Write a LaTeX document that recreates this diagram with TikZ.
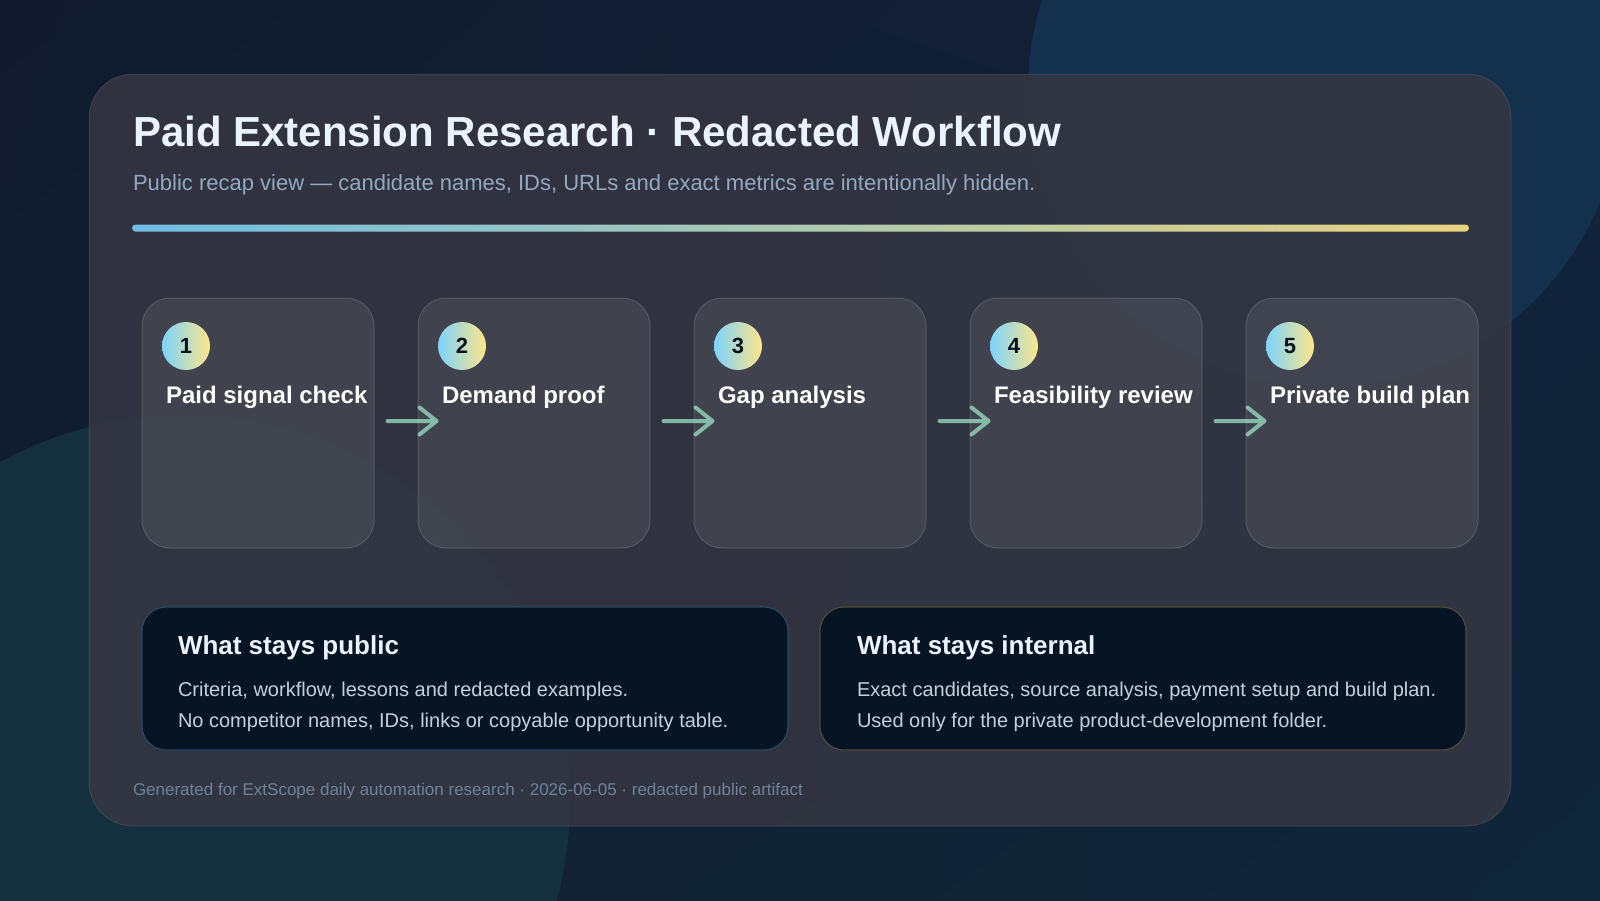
\documentclass[tikz,border=0pt]{standalone}
\usepackage{fontspec}
\setmainfont{Liberation Sans}
\usetikzlibrary{calc,shadings}
\definecolor{bgTL}{HTML}{111A2D}
\definecolor{bgTR}{HTML}{12223A}
\definecolor{bgBL}{HTML}{10202F}
\definecolor{bgBR}{HTML}{10263A}
\definecolor{circTR}{HTML}{13304C}
\definecolor{circBL}{HTML}{14303F}
\definecolor{cardC}{HTML}{363742}
\definecolor{skyC}{HTML}{7DD3FC}
\definecolor{mintC}{HTML}{A7F3D0}
\definecolor{sunC}{HTML}{FDE68A}
\definecolor{titleC}{HTML}{EAF3FF}
\definecolor{subC}{HTML}{93A9BF}
\definecolor{bodyC}{HTML}{C3D0DC}
\definecolor{footC}{HTML}{6F8398}
\definecolor{boxC}{HTML}{071424}
\definecolor{pubEdge}{HTML}{29485F}
\definecolor{intEdge}{HTML}{4B4A3E}
\definecolor{numC}{HTML}{0B1220}
\tikzset{
  txt/.style={anchor=base west, inner sep=0pt, outer sep=0pt},
  stepbox/.style={draw=white, draw opacity=0.14, fill=white, fill opacity=0.08,
    rounded corners=28pt, minimum width=232pt, minimum height=250pt, line width=1pt},
  numdot/.style={circle, minimum size=48pt, inner sep=0pt,
    left color=skyC, middle color=mintC, right color=sunC,
    text=numC, font=\fontsize{22}{22}\selectfont\bfseries},
  steplabel/.style={txt, text=white, font=\fontsize{24}{27}\selectfont\bfseries},
  infobox/.style={fill=boxC, rounded corners=24pt, minimum width=646pt,
    minimum height=143pt, line width=1.2pt},
  boxhead/.style={txt, text=titleC, font=\fontsize{26}{30}\selectfont\bfseries},
  boxbody/.style={txt, text=bodyC, font=\fontsize{20}{24}\selectfont},
  flow/.style={draw=mintC, draw opacity=0.68, line width=4pt, line cap=round, line join=round}
}
\begin{document}
\begin{tikzpicture}[x=1pt,y=-1pt]
\useasboundingbox (0,0) rectangle (1600,900);
% background
\shade[upper left=bgTL, upper right=bgTR, lower left=bgBL, lower right=bgBR] (0,0) rectangle (1600,900);
\fill[circTR] (1325,90) circle[radius=297];
\fill[circBL] (185,800) circle[radius=385];
% main card
\node[draw=white, draw opacity=0.09, fill=cardC, fill opacity=0.85, rounded corners=44pt,
  minimum width=1422pt, minimum height=752pt, line width=1pt, inner sep=0pt] (card) at (800,450) {};
% title and subtitle
\node[txt, text=titleC, font=\fontsize{42}{48}\selectfont\bfseries] (title) at (133,146)
  {Paid Extension Research · Redacted Workflow};
\node[txt, text=subC, font=\fontsize{22}{26}\selectfont] (subtitle) at (133,190)
  {Public recap view — candidate names, IDs, URLs and exact metrics are intentionally hidden.};
% gradient bar
\shade[left color=skyC!90!black, middle color=mintC!90!black, right color=sunC!92!black, rounded corners=3.5pt]
  (132,224.5) rectangle (1469,231.5);
% step cards
\foreach \i/\lab in {1/Paid signal check, 2/Demand proof, 3/Gap analysis, 4/Feasibility review, 5/Private build plan}{
  \pgfmathsetmacro{\cx}{258+276*(\i-1)}
  \pgfmathsetmacro{\dx}{186+276*(\i-1)}
  \pgfmathsetmacro{\lx}{166+276*(\i-1)}
  \node[stepbox] (s\i) at (\cx,423) {};
  \node[numdot] (n\i) at (\dx,346) {\i};
  \node[steplabel] (l\i) at (\lx,403) {\lab};
}
% arrows between cards
\foreach \i/\j in {1/2, 2/3, 3/4, 4/5}{
  \coordinate (a\i) at ($(s\i.east)+(13,-2)$);
  \coordinate (e\i) at ($(s\j.west)+(19,-2)$);
  \draw[flow] (a\i) -- (e\i) ($(e\i)+(-17,-13.5)$) -- (e\i) -- ($(e\i)+(-17,13.5)$);
}
% info boxes
\node[infobox, draw=pubEdge] (pub) at (465,678.5) {};
\node[infobox, draw=intEdge] (int) at (1143,678.5) {};
\node[boxhead] (pubh) at (178,654) {What stays public};
\node[boxbody] (pubb1) at (178,696) {Criteria, workflow, lessons and redacted examples.};
\node[boxbody] (pubb2) at (178,727) {No competitor names, IDs, links or copyable opportunity table.};
\node[boxhead] (inth) at (857,654) {What stays internal};
\node[boxbody] (intb1) at (857,696) {Exact candidates, source analysis, payment setup and build plan.};
\node[boxbody] (intb2) at (857,727) {Used only for the private product-development folder.};
% footer
\node[txt, text=footC, font=\fontsize{17}{20}\selectfont] (footer) at (133,795)
  {Generated for ExtScope daily automation research · 2026-06-05 · redacted public artifact};
\end{tikzpicture}
\end{document}
